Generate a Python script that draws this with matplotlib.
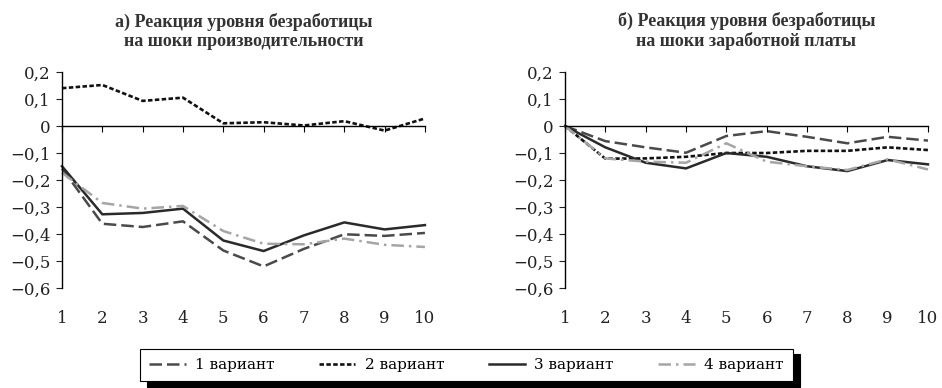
import matplotlib
matplotlib.use("Agg")
import matplotlib.pyplot as plt

# данные
periodos = [1, 2, 3, 4, 5, 6, 7, 8, 9, 10]
etiquetas_y = ["0,2", "0,1", "0", "\u22120,1", "\u22120,2", "\u22120,3", "\u22120,4", "\u22120,5", "\u22120,6"]
valores_y = [0.2, 0.1, 0, -0.1, -0.2, -0.3, -0.4, -0.5, -0.6]

variantes = ["1 вариант", "2 вариант", "3 вариант", "4 вариант"]

# а) шоки производительности
prod_v1 = [-0.157, -0.362, -0.374, -0.353, -0.461, -0.520, -0.455, -0.401, -0.407, -0.396]
prod_v2 = [0.140, 0.152, 0.093, 0.105, 0.010, 0.014, 0.002, 0.018, -0.017, 0.028]
prod_v3 = [-0.149, -0.327, -0.322, -0.306, -0.424, -0.463, -0.405, -0.357, -0.383, -0.367]
prod_v4 = [-0.173, -0.285, -0.306, -0.296, -0.389, -0.436, -0.438, -0.417, -0.440, -0.448]

# б) шоки заработной платы
wage_v1 = [0.0, -0.056, -0.079, -0.099, -0.037, -0.019, -0.040, -0.064, -0.040, -0.054]
wage_v2 = [0.0, -0.121, -0.120, -0.114, -0.100, -0.100, -0.092, -0.092, -0.079, -0.089]
wage_v3 = [0.0, -0.079, -0.136, -0.157, -0.100, -0.114, -0.149, -0.167, -0.126, -0.142]
wage_v4 = [0.0, -0.120, -0.132, -0.136, -0.064, -0.132, -0.149, -0.163, -0.123, -0.161]

titulos = ["а) Реакция уровня безработицы\nна шоки производительности",
           "б) Реакция уровня безработицы\nна шоки заработной платы"]

estilos = [
    dict(color="#4a4a4a", linestyle=(0, (5, 2)), linewidth=1.8),
    dict(color="#111111", linestyle=(0, (1.7, 0.9)), linewidth=1.9),
    dict(color="#2a2a2a", linestyle="-", linewidth=1.8),
    dict(color="#a5a5a5", linestyle=(0, (5, 2, 1, 2)), linewidth=1.8),
]

plt.rcParams['font.family'] = ['DejaVu Serif']

fig = plt.figure(figsize=(9.42, 3.88), dpi=100)
ax1 = fig.add_axes([0.0658, 0.2577, 0.3853, 0.5567])
ax2 = fig.add_axes([0.5998, 0.2577, 0.3853, 0.5567])

paneles = [(ax1, [prod_v1, prod_v2, prod_v3, prod_v4], titulos[0]),
           (ax2, [wage_v1, wage_v2, wage_v3, wage_v4], titulos[1])]

lineas = []
for ax, series, titulo in paneles:
    for serie, estilo, nombre in zip(series, estilos, variantes):
        l, = ax.plot(periodos, serie, label=nombre, clip_on=False, **estilo)
        if ax is ax1:
            lineas.append(l)
    ax.set_xlim(1, 10)
    ax.set_ylim(-0.6, 0.2)
    ax.spines['top'].set_visible(False)
    ax.spines['right'].set_visible(False)
    ax.spines['bottom'].set_position(('data', 0))
    ax.spines['left'].set_linewidth(1.0)
    ax.spines['bottom'].set_linewidth(1.0)
    ax.set_xticks(periodos)
    ax.tick_params(axis='x', direction='out', length=4, labelbottom=False)
    ax.set_yticks(valores_y)
    ax.set_yticklabels(etiquetas_y)
    ax.tick_params(axis='y', direction='out', length=4, labelsize=12, colors='#222222', pad=4)
    # подписи оси x внизу
    sec = ax.secondary_xaxis('bottom')
    sec.set_xticks(periodos)
    sec.tick_params(length=0, labelsize=12, pad=16, colors='#222222')
    sec.spines['bottom'].set_visible(False)
    ax.set_facecolor('none')
    ax.set_title(titulo, fontsize=13, fontweight='bold', family='Liberation Serif',
                 color='#333333', linespacing=1.1, pad=19)

leg = fig.legend(handles=lineas, labels=variantes, loc='center', ncol=4,
                 bbox_to_anchor=(0.495, 0.059), frameon=True, fancybox=False,
                 shadow={'ox': 5, 'oy': -4, 'color': 'black', 'alpha': 1},
                 fontsize=11, handlelength=2.4, columnspacing=2.9, borderpad=0.6,
                 borderaxespad=0.4, edgecolor='black', handletextpad=0.6)
leg.get_frame().set_linewidth(0.8)

fig.savefig("out.png", dpi=100)
